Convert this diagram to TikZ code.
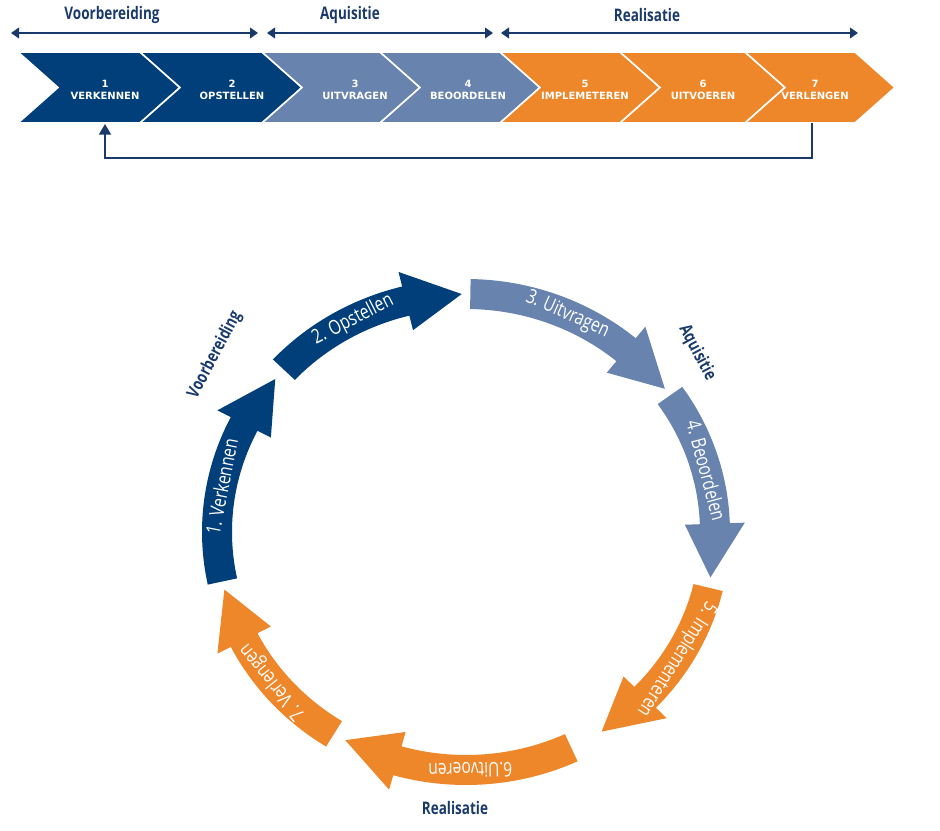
\documentclass[tikz,border=0pt]{standalone}
\usepackage{fontspec}
\setmainfont{Open Sans}
\newfontfamily\cond[FakeStretch=0.78]{Open Sans}
\newfontfamily\chev{DejaVu Sans}
\definecolor{dblue}{HTML}{003F7A}
\definecolor{lblue}{HTML}{6783AE}
\definecolor{orng}{HTML}{EE862A}
\definecolor{lbl}{HTML}{1A3A6B}
\usetikzlibrary{arrows.meta}
\tikzset{
  chevtext/.style={text=white,font=\chev\bfseries\fontsize{7.5}{9.5}\selectfont,align=center},
  phase/.style={text=lbl,font=\cond\bfseries\fontsize{13}{14}\selectfont},
  span/.style={draw=lbl,line width=1.4pt,{Triangle[length=6pt,width=8pt]}-{Triangle[length=6pt,width=8pt]}},
  ctext/.style={text=white,font=\cond\fontsize{15}{16}\selectfont},
}
\newcommand\chevron[4]{% L, R, color, name
  \fill[#3,draw=white,line width=1.2pt] (#1,52) -- (#2,52) -- ({#2+40},87.5) -- (#2,123) -- (#1,123) -- ({#1+40},87.5) -- cycle;
}
\newcommand\circarrow[5]{% a0,a1,color,name,text
  \pgfmathsetmacro\ah{#2-13}
  \pgfmathsetmacro\am{(#1+#2-6)/2}
  \pgfmathsetmacro\rot{-\am-90}
  \fill[#3] (#1:264 and 253) arc[start angle=#1,end angle=\ah,x radius=264,y radius=253]
    -- (\ah:279 and 268) -- (#2:249 and 238) -- (\ah:219 and 208)
    -- (\ah:234 and 223) arc[start angle=\ah,end angle=#1,x radius=234,y radius=223] -- cycle;
  \node[ctext,rotate=\rot] (#4) at (\am:249 and 238) {#5};
}
\begin{document}
\begin{tikzpicture}[x=0.75pt,y=-0.75pt]
\useasboundingbox (0,0) rectangle (940,831);
% top chevrons
\chevron{18}{140}{dblue}{}
\chevron{140}{262}{dblue}{}
\chevron{262}{380}{lblue}{}
\chevron{380}{500}{lblue}{}
\chevron{500}{620}{orng}{}
\chevron{620}{745}{orng}{}
\chevron{745}{855}{orng}{}
\node[chevtext] (c1) at (105,90) {1\\VERKENNEN};
\node[chevtext] (c2) at (232,90) {2\\OPSTELLEN};
\node[chevtext] (c3) at (355,90) {3\\UITVRAGEN};
\node[chevtext] (c4) at (468,90) {4\\BEOORDELEN};
\node[chevtext] (c5) at (585,90) {5\\IMPLEMETEREN};
\node[chevtext] (c6) at (703,90) {6\\UITVOEREN};
\node[chevtext] (c7) at (815,90) {7\\VERLENGEN};
% phase spans
\coordinate (v0) at (11,33); \coordinate (v1) at (258,33);
\coordinate (q0) at (267,33); \coordinate (q1) at (493,33);
\coordinate (r0) at (501,33); \coordinate (r1) at (858,33);
\draw[span] (v0) -- (v1);
\draw[span] (q0) -- (q1);
\draw[span] (r0) -- (r1);
\node[phase] (pv) at (112,15) {Voorbereiding};
\node[phase] (pq) at (350,15) {Aquisitie};
\node[phase] (pr) at (647,15) {Realisatie};
% feedback
\coordinate (f0) at (812,123);
\coordinate (f1) at (105,124);
\draw[lbl,line width=1.4pt,-{Triangle[length=8pt,width=9pt]}] (f0) -- (812,158) -- (105,158) -- (f1);
% circle
\begin{scope}[shift={(466,532)}]
\circarrow{168}{220}{dblue}{a1}{1. Verkennen}
\circarrow{223}{269}{dblue}{a2}{2. Opstellen}
\circarrow{271}{323}{lblue}{a3}{3. Uitvragen}
\circarrow{325}{371}{lblue}{a4}{4. Beoordelen}
\circarrow{373.5}{417}{orng}{a5}{5. Implementeren}
\circarrow{425}{479}{orng}{a6}{6.Uitvoeren}
\circarrow{482}{526}{orng}{a7}{7. Verlengen}
\end{scope}
\node[phase,rotate=62] (lv) at (215,355) {Voorbereiding};
\node[phase,rotate=-62] (lq) at (697,353) {Aquisitie};
\node[phase] (lr) at (455,808) {Realisatie};
\end{tikzpicture}
\end{document}
